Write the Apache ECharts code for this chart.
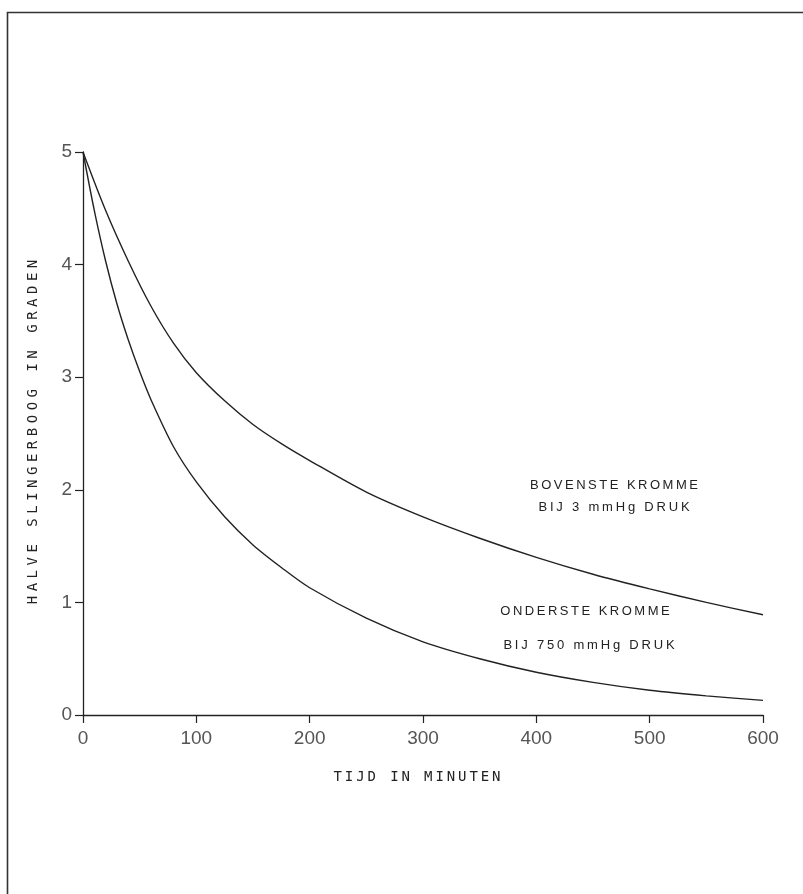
<!DOCTYPE html>
<html>
<head>
<meta charset="utf-8">
<script src="https://cdn.jsdelivr.net/npm/echarts@6/dist/echarts.min.js"></script>
<style>
  html, body { margin: 0; padding: 0; background: #fff; }
  #chart { width: 803px; height: 894px; }
</style>
</head>
<body>
<div id="chart"></div>
<script>
// tijd (minuten) en halve slingerboog (graden)
const upperTime = [0, 20, 40, 60, 80, 100, 125, 150, 175, 200, 250, 300, 350, 400, 450, 500, 550, 600]
const upperValue = [5.0, 4.48, 4.03, 3.63, 3.30, 3.04, 2.79, 2.58, 2.41, 2.26, 1.98, 1.76, 1.57, 1.40, 1.25, 1.12, 1.00, 0.89]

const lowerTime = [0, 10, 20, 30, 40, 50, 60, 80, 100, 125, 150, 175, 200, 250, 300, 350, 400, 450, 500, 550, 600]
const lowerValue = [5.0, 4.48, 4.03, 3.65, 3.33, 3.05, 2.80, 2.38, 2.07, 1.76, 1.51, 1.31, 1.13, 0.86, 0.65, 0.50, 0.38, 0.29, 0.22, 0.17, 0.13]

const xTicks = [0, 100, 200, 300, 400, 500, 600]
const yTicks = [0, 1, 2, 3, 4, 5]

const xTitle = 'TIJD IN MINUTEN'
const yTitle = 'HALVE SLINGERBOOG IN GRADEN'
const upperNote = ['BOVENSTE KROMME', 'BIJ 3 mmHg DRUK']
const lowerNote = ['ONDERSTE KROMME', 'BIJ 750 mmHg DRUK']

const ink = '#222'

// zrender has no letter-spacing, so every char gets its own rich token with padding
function spaced(str) {
  return str.split('').map(c => '{c|' + c + '}').join('')
}

function spacedText(str, x, y, font, pad, extra) {
  return Object.assign({
    type: 'text',
    x: x,
    y: y,
    style: {
      text: spaced(str),
      fill: ink,
      font: font,
      align: 'center',
      verticalAlign: 'middle',
      rich: { c: { font: font, fill: ink, padding: [0, pad] } },
    },
  }, extra || {})
}

const pair = (ts, vs) => ts.map((t, i) => [t, vs[i]])

const chart = echarts.init(document.getElementById('chart'))

const option = {
  backgroundColor: '#fff',
  animation: false,
  grid: {
    left: 83,
    right: 40,
    top: 152,
    bottom: 179,
    outerBoundsMode: 'none',
  },
  xAxis: {
    type: 'value',
    min: xTicks[0],
    max: xTicks[xTicks.length - 1],
    interval: 100,
    axisLine: { show: true, lineStyle: { color: ink, width: 1.3 } },
    axisTick: { show: true, inside: false, length: 8, lineStyle: { color: ink, width: 1.2 } },
    axisLabel: {
      margin: 14,
      color: '#555',
      fontFamily: 'Liberation Sans',
      fontSize: 19,
    },
    splitLine: { show: false },
  },
  yAxis: {
    type: 'value',
    min: yTicks[0],
    max: yTicks[yTicks.length - 1],
    interval: 1,
    axisLine: { show: true, lineStyle: { color: ink, width: 1.3 } },
    axisTick: { show: true, inside: false, length: 8, lineStyle: { color: ink, width: 1.2 } },
    axisLabel: {
      margin: 11,
      color: '#555',
      fontFamily: 'Liberation Sans',
      fontSize: 19,
    },
    splitLine: { show: false },
  },
  series: [
    {
      name: 'bovenste kromme',
      type: 'line',
      data: pair(upperTime, upperValue),
      smooth: 0.3,
      showSymbol: false,
      lineStyle: { color: ink, width: 1.4 },
    },
    {
      name: 'onderste kromme',
      type: 'line',
      data: pair(lowerTime, lowerValue),
      smooth: 0.3,
      showSymbol: false,
      lineStyle: { color: ink, width: 1.4 },
    },
  ],
  graphic: [
    // kader om de figuur
    {
      type: 'rect',
      shape: { x: 7.5, y: 12.5, width: 900, height: 900 },
      style: { fill: 'none', stroke: '#333', lineWidth: 1.6 },
      silent: true,
    },
    spacedText(xTitle, 417, 777, '14px "DejaVu Sans Mono"', 1.45),
    spacedText(yTitle, 33, 432, '14px "DejaVu Sans Mono"', 2.25, { rotation: Math.PI / 2 }),
    spacedText(upperNote[0], 614, 485, '13px "Liberation Sans"', 1.25),
    spacedText(upperNote[1], 614, 507, '13px "Liberation Sans"', 1.4),
    spacedText(lowerNote[0], 585, 611, '13px "Liberation Sans"', 1.25),
    spacedText(lowerNote[1], 589, 645, '13px "Liberation Sans"', 1.4),
  ],
}

chart.setOption(option)
</script>
</body>
</html>
